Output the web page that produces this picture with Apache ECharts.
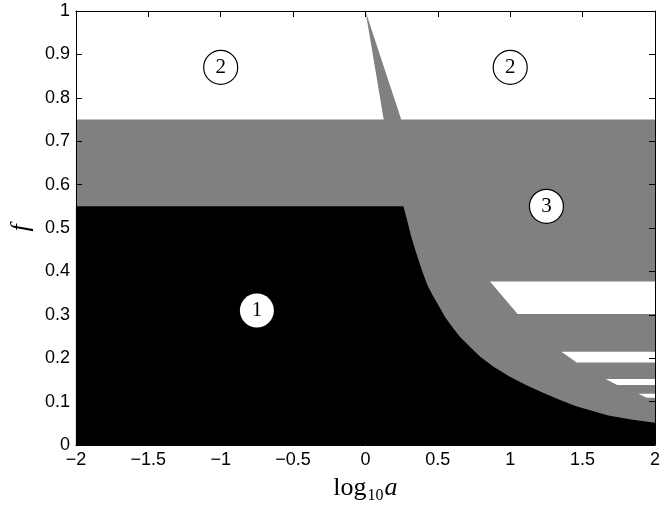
<!DOCTYPE html>
<html>
<head>
<meta charset="utf-8">
<script src="https://cdn.jsdelivr.net/npm/echarts@6/dist/echarts.min.js"></script>
<style>html,body{margin:0;padding:0;background:#fff;}#c{width:663px;height:509px;}</style>
</head>
<body>
<div id="c"></div>
<script>
// ---- data (log10 a, f) ----
const xTicks = [-2, -1.5, -1, -0.5, 0, 0.5, 1, 1.5, 2];
const yTicks = [0, 0.1, 0.2, 0.3, 0.4, 0.5, 0.6, 0.7, 0.8, 0.9, 1];

// grey region 3 outline (band + wedge)
const grayA = [-2, -2, 0.126, 0.0, 0.247, 2, 2];
const grayF = [0, 0.75, 0.75, 1.0, 0.75, 0.75, 0];

// black region 1 outline
const blackA = [-2, -2, 0.262, 0.286, 0.314, 0.348, 0.393, 0.427, 0.461, 0.507, 0.552, 0.609, 0.654, 0.723, 0.791, 0.882, 0.995, 1.109, 1.223, 1.336, 1.450, 1.564, 1.677, 1.836, 2.0, 2.0];
const blackF = [0, 0.55, 0.550, 0.520, 0.483, 0.445, 0.400, 0.369, 0.347, 0.320, 0.294, 0.268, 0.249, 0.226, 0.204, 0.181, 0.158, 0.138, 0.121, 0.105, 0.090, 0.079, 0.068, 0.059, 0.051, 0];

// white strips inside region 3: [topLeftA, topF, bottomLeftA, bottomF]
const strip1 = [0.86, 0.377, 1.051, 0.302];
const strip2 = [1.353, 0.215, 1.46, 0.19];
const strip3 = [1.659, 0.152, 1.739, 0.138];
const strip4 = [1.886, 0.118, 1.943, 0.109];

// circled region labels
const labelA = [-1.0, 1.0, 1.25, -0.75];
const labelF = [0.87, 0.87, 0.55, 0.31];
const labelText = ['2', '2', '3', '1'];
const labelBorder = [true, true, true, false];

// ---- build ----
function polySeries(aArr, fArr, color, z) {
  return {
    type: 'custom', coordinateSystem: 'cartesian2d', silent: true, z: z, clip: true,
    data: [[aArr[0], fArr[0]]],
    renderItem: function (params, api) {
      const pts = aArr.map((a, i) => api.coord([a, fArr[i]]));
      return { type: 'polygon', shape: { points: pts }, style: { fill: color } };
    }
  };
}
function stripSeries(s) {
  return polySeries([s[0], 2, 2, s[2]], [s[1], s[1], s[3], s[3]], '#ffffff', 3);
}

const tickFont = { color: '#000', fontFamily: 'Liberation Sans', fontSize: 18 };
const fmt = v => String(v).replace('-', '\u2212');
const lineSt = { show: true, onZero: false, lineStyle: { color: '#000', width: 1 } };
const tickSt = { show: true, inside: true, length: 6, lineStyle: { color: '#000' } };

const chart = echarts.init(document.getElementById('c'));
chart.setOption({
  backgroundColor: '#fff',
  animation: false,
  grid: { left: 74, right: 2, top: 11, bottom: 56 },
  xAxis: [
    {
      type: 'value', min: xTicks[0], max: xTicks[xTicks.length - 1], interval: 0.5, z: 10,
      axisLine: lineSt, axisTick: tickSt, splitLine: { show: false },
      axisLabel: Object.assign({ margin: 6, formatter: fmt }, tickFont),
      name: '{r|log}{s|10}{i|a}', nameLocation: 'middle', nameGap: 28,
      nameTextStyle: {
        rich: {
          r: { fontFamily: 'Liberation Serif', fontSize: 26, color: '#000' },
          s: { fontFamily: 'Liberation Serif', fontSize: 16, color: '#000', verticalAlign: 'bottom', padding: [15, 1, 0, 1] },
          i: { fontFamily: 'Liberation Serif', fontStyle: 'italic', fontSize: 26, color: '#000' }
        }
      }
    },
    {
      type: 'value', position: 'top', min: xTicks[0], max: xTicks[xTicks.length - 1], interval: 0.5, z: 10,
      axisLine: lineSt, axisTick: tickSt, splitLine: { show: false }, axisLabel: { show: false }
    }
  ],
  yAxis: [
    {
      type: 'value', min: yTicks[0], max: yTicks[yTicks.length - 1], interval: 0.1, z: 10,
      axisLine: lineSt, axisTick: tickSt, splitLine: { show: false },
      axisLabel: Object.assign({ margin: 6 }, tickFont),
      name: 'f', nameLocation: 'middle', nameGap: 30, nameRotate: 90,
      nameTextStyle: { fontFamily: 'Liberation Serif', fontStyle: 'italic', fontSize: 26, color: '#000' }
    },
    {
      type: 'value', position: 'right', min: yTicks[0], max: yTicks[yTicks.length - 1], interval: 0.1, z: 10,
      axisLine: lineSt, axisTick: tickSt, splitLine: { show: false }, axisLabel: { show: false }
    }
  ],
  series: [
    polySeries(grayA, grayF, '#808080', 1),
    stripSeries(strip1), stripSeries(strip2), stripSeries(strip3), stripSeries(strip4),
    polySeries(blackA, blackF, '#000000', 4),
    {
      type: 'scatter', z: 6, silent: true, symbol: 'circle', symbolSize: 34,
      data: labelA.map((a, i) => ({
        value: [a, labelF[i]],
        itemStyle: { color: '#fff', opacity: 1, borderColor: '#000', borderWidth: labelBorder[i] ? 1.2 : 0 },
        label: { formatter: labelText[i] }
      })),
      label: { show: true, position: 'inside', color: '#000', fontFamily: 'Liberation Serif', fontSize: 21 }
    }
  ]
});
</script>
</body>
</html>
